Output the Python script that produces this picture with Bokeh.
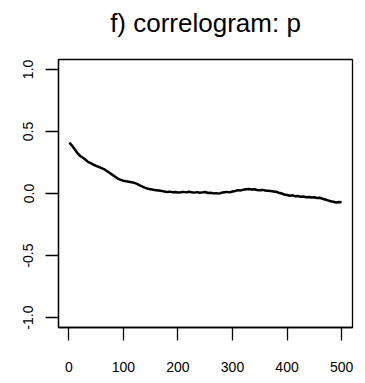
from bokeh.plotting import figure
from bokeh.models import ColumnDataSource, FixedTicker, Range1d, Title
from bokeh.embed import file_html
from bokeh.resources import INLINE

title_text = "f) correlogram: p"
x_ticks = [0, 100, 200, 300, 400, 500]
y_ticks = [-1.0, -0.5, 0.0, 0.5, 1.0]
y_tick_labels = {-1.0: "-1.0", -0.5: "-0.5", 0.0: "0.0", 0.5: "0.5", 1.0: "1.0"}

lags = [1, 5, 10, 15, 20, 25, 30, 35, 40, 45, 50, 55, 60, 65, 70, 75, 80, 85, 90, 95,
        100, 105, 110, 115, 120, 125, 130, 135, 140, 145, 150, 155, 160, 165, 170, 175,
        180, 185, 190, 195, 200, 205, 210, 215, 220, 225, 230, 235, 240, 245, 250, 255,
        260, 265, 270, 275, 280, 285, 290, 295, 300, 305, 310, 315, 320, 325, 330, 335,
        340, 345, 350, 355, 360, 365, 370, 375, 380, 385, 390, 395, 400, 405, 410, 415,
        420, 425, 430, 435, 440, 445, 450, 455, 460, 465, 470, 475, 480, 485, 490, 495, 500]
acf = [0.410, 0.390, 0.360, 0.330, 0.305, 0.290, 0.275, 0.255, 0.245, 0.232, 0.222,
       0.215, 0.205, 0.195, 0.180, 0.165, 0.150, 0.135, 0.120, 0.110, 0.103, 0.098,
       0.094, 0.090, 0.086, 0.078, 0.066, 0.055, 0.045, 0.038, 0.034, 0.030, 0.027,
       0.024, 0.021, 0.016, 0.013, 0.015, 0.010, 0.012, 0.008, 0.010, 0.013, 0.009,
       0.014, 0.010, 0.007, 0.011, 0.006, 0.009, 0.012, 0.004, 0.006, 0.001, 0.003,
       -0.001, 0.006, 0.010, 0.013, 0.009, 0.016, 0.020, 0.027, 0.025, 0.030, 0.034,
       0.036, 0.032, 0.034, 0.028, 0.026, 0.029, 0.024, 0.022, 0.020, 0.017, 0.014,
       0.006, 0.000, -0.008, -0.012, -0.018, -0.015, -0.022, -0.020, -0.027, -0.024,
       -0.030, -0.028, -0.032, -0.030, -0.036, -0.034, -0.042, -0.048, -0.055, -0.062,
       -0.066, -0.072, -0.068, -0.070]

src = ColumnDataSource(dict(lag=lags, acf=acf))

p = figure(width=365, height=383, output_backend="svg", toolbar_location=None,
           x_range=Range1d(-19.0, 520.0), y_range=Range1d(-1.08, 1.08),
           min_border_left=58, min_border_right=13, min_border_top=59,
           min_border_bottom=56)

spacer = Title(text=" ", text_font_size="13px", standoff=0)
main_title = Title(text=title_text, align="center", text_font="Liberation Sans",
                   text_font_style="normal", text_font_size="26px",
                   text_color="black")
p.add_layout(spacer, "above")
p.add_layout(main_title, "above")

p.line("lag", "acf", source=src, line_color="black", line_width=2.5)

p.xgrid.visible = False
p.ygrid.visible = False
p.outline_line_color = "black"
p.outline_line_width = 1.3
p.outline_line_alpha = 1.0

for ax in (p.xaxis[0], p.yaxis[0]):
    ax.axis_line_color = "black"
    ax.axis_line_width = 1.3
    ax.major_tick_line_color = "black"
    ax.major_tick_line_width = 1.3
    ax.major_tick_out = 13
    ax.major_tick_in = 0
    ax.minor_tick_line_color = None
    ax.major_label_text_font = "Liberation Sans"
    ax.major_label_text_font_size = "14px"
    ax.major_label_text_color = "black"

p.xaxis[0].ticker = FixedTicker(ticks=x_ticks)
p.xaxis[0].major_label_standoff = 21
p.yaxis[0].ticker = FixedTicker(ticks=y_ticks)
p.yaxis[0].major_label_overrides = y_tick_labels
p.yaxis[0].major_label_orientation = "vertical"
p.yaxis[0].major_label_standoff = 12

open("out.html", "w").write(file_html(p, INLINE))
